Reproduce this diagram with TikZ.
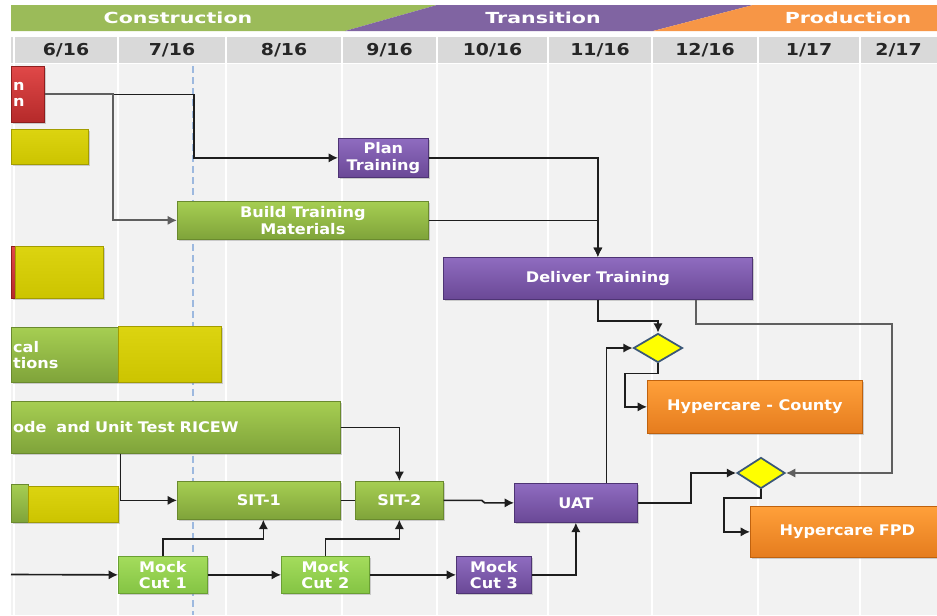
\documentclass[tikz,border=0pt]{standalone}
\usepackage{fontspec}
\newfontfamily\boxfont{DejaVu Sans}[FakeStretch=1.1]
\newfontfamily\phasefont{DejaVu Sans}[FakeStretch=1.35]
\newfontfamily\monthfont{DejaVu Sans}[FakeStretch=1.15]
\usepackage{tikz}
\usetikzlibrary{shapes.geometric, arrows.meta, shadows, calc}

\definecolor{phasegreen}{HTML}{9BBB59}
\definecolor{phasepurple}{HTML}{8064A2}
\definecolor{phaseorange}{HTML}{F79646}
\definecolor{headgray}{HTML}{D9D9D9}
\definecolor{bodygray}{HTML}{F2F2F2}
\definecolor{todayblue}{HTML}{9DB9DF}
\definecolor{redtop}{HTML}{E04848}
\definecolor{redbot}{HTML}{B52A2A}
\definecolor{redline}{HTML}{8E1E1E}
\definecolor{ylwtop}{HTML}{DCD410}
\definecolor{ylwbot}{HTML}{CCC400}
\definecolor{ylwline}{HTML}{A39D00}
\definecolor{grntop}{HTML}{A6CE52}
\definecolor{grnbot}{HTML}{7FA33A}
\definecolor{grnline}{HTML}{6A8A2E}
\definecolor{limetop}{HTML}{A4DC5C}
\definecolor{limebot}{HTML}{84C444}
\definecolor{limeline}{HTML}{6AA032}
\definecolor{purtop}{HTML}{8F6CC0}
\definecolor{purbot}{HTML}{6A4896}
\definecolor{purline}{HTML}{4E3474}
\definecolor{orgtop}{HTML}{FFA03A}
\definecolor{orgbot}{HTML}{E57C1E}
\definecolor{orgline}{HTML}{C0620E}
\definecolor{gatefill}{HTML}{FFFF00}
\definecolor{gateline}{HTML}{3B5878}
\definecolor{linkdark}{HTML}{1E1E1E}
\definecolor{linkgray}{HTML}{5F5F5F}

\tikzset{
  bar/.style={rectangle, anchor=north west, inner sep=1pt, line width=0.6pt, text=white, align=center,
    font=\boxfont\bfseries\fontsize{12.5}{14}\selectfont,
    drop shadow={shadow xshift=1.2pt, shadow yshift=-1.2pt, opacity=0.35}},
  boxsize/.style 2 args={minimum width=#1*0.3mm, minimum height=#2*0.3mm},
  cutoff/.style={align=left, text width=#1*0.3mm-3pt},
  redbar/.style={bar, top color=redtop, bottom color=redbot, draw=redline},
  ylwbar/.style={bar, top color=ylwtop, bottom color=ylwbot, draw=ylwline},
  grnbar/.style={bar, top color=grntop, bottom color=grnbot, draw=grnline},
  limebar/.style={bar, top color=limetop, bottom color=limebot, draw=limeline},
  purbar/.style={bar, top color=purtop, bottom color=purbot, draw=purline},
  orgbar/.style={bar, top color=orgtop, bottom color=orgbot, draw=orgline},
  gate/.style={diamond, draw=gateline, line width=1.5pt, fill=gatefill, inner sep=0pt},
  phase/.style={text=white, font=\phasefont\bfseries\fontsize{13}{15}\selectfont},
  month/.style={text=black!85, font=\monthfont\bfseries\fontsize{14}{16}\selectfont},
  link/.style={-{Latex[length=8pt, width=8pt]}, line width=1.4pt, draw=linkdark},
  plain/.style={line width=1.4pt, draw=linkdark},
}

\begin{document}
\begin{tikzpicture}[x=0.3mm, y=-0.3mm]
  \useasboundingbox (0,0) rectangle (937,615);
  \fill[white] (0,0) rectangle (937,615);

  % Phases
  \fill[phasegreen] (11,5) -- (437,5) -- (345,31) -- (11,31) -- cycle;
  \fill[phasepurple] (437,5) -- (753,5) -- (653,31) -- (345,31) -- cycle;
  \fill[phaseorange] (753,5) -- (937,5) -- (937,31) -- (653,31) -- cycle;
  \node[phase] (construction) at (178,18) {Construction};
  \node[phase] (transition) at (543,18) {Transition};
  \node[phase] (production) at (848,18) {Production};

  % Months
  \fill[bodygray] (11,64) rectangle (937,615);
  \fill[headgray] (11,37) rectangle (937,63);
  \foreach \a/\b/\m/\y in {14/118/6/16, 118/226/7/16, 226/342/8/16, 342/437/9/16, 437/548/10/16,
      548/652/11/16, 652/758/12/16, 758/860/1/17, 860/937/2/17} {
    \draw[white, line width=1.8pt] (\a,37) -- (\a,615);
    \node[month] (m\m-\y) at ({(\a+\b)/2},50) {\m/\y};
  }

  % Status date
  \draw[todayblue, line width=2.4pt, dash pattern=on 6pt off 3.5pt] (193,66) -- (193,615);

  % Tasks
  \node[redbar, boxsize={33}{56}, cutoff=33] (design) at (11,66) {n\\n};
  \node[ylwbar, boxsize={77}{35}] (ylwone) at (11,129) {};
  \node[purbar, boxsize={90}{39}] (plantrain) at (338,138) {Plan\\Training};
  \node[grnbar, boxsize={251}{38}] (buildmat) at (177,201) {Build Training\\Materials};
  \node[redbar, boxsize={4}{52}] (redstub) at (11,246) {};
  \node[ylwbar, boxsize={88}{52}] (ylwtwo) at (15,246) {};
  \node[grnbar, boxsize={107}{55}, cutoff=107] (funcspec) at (11,327) {cal\\tions};
  \node[ylwbar, boxsize={103}{56}] (ylwthree) at (118,326) {};
  \node[purbar, boxsize={309}{42}] (deliver) at (443,257) {Deliver Training};
  \node[gate, minimum width=49*0.3mm, minimum height=29*0.3mm] (gateone) at (658,348) {};
  \node[orgbar, boxsize={215}{53}] (hcounty) at (647,380) {Hypercare - County};
  \node[grnbar, boxsize={329}{52}, cutoff=329] (ricew) at (11,401) {ode~ and Unit Test RICEW};
  \node[grnbar, boxsize={17}{38}] (grnstub) at (11,484) {};
  \node[ylwbar, boxsize={90}{36}] (ylwfour) at (28,486) {};
  \node[grnbar, boxsize={163}{38}] (sitone) at (177,481) {SIT-1};
  \node[grnbar, boxsize={88}{38}] (sittwo) at (355,481) {SIT-2};
  \node[limebar, boxsize={89}{37}] (mockone) at (118,556) {Mock\\Cut 1};
  \node[limebar, boxsize={88}{37}] (mocktwo) at (281,556) {Mock\\Cut 2};
  \node[purbar, boxsize={75}{37}] (mockthree) at (456,556) {Mock\\Cut 3};
  \node[purbar, boxsize={123}{39}] (uat) at (514,483) {UAT};
  \node[gate, minimum width=48*0.3mm, minimum height=31*0.3mm] (gatetwo) at (761,473) {};
  \node[orgbar, boxsize={194}{51}] (hfpd) at (750,506) {Hypercare FPD};

  % Links
  \draw[link] (design.east) -- ++(149,0) |- (plantrain.west);
  \draw[link, draw=linkgray, line width=1.8pt] (design.east) -- ++(68,0) |- (buildmat.west);
  \draw[link] (plantrain.east) -| (deliver.north);
  \draw[link] (buildmat.east) -| (deliver.north);
  \draw[link] (deliver.south) -- ++(0,21) -| (gateone.north);
  \draw[link, draw=linkgray, line width=1.8pt] ($(deliver.south)+(98.5,0)$) -- ++(0,24) -- ++(196,0) |- (gatetwo.east);
  \draw[link] ($(uat.north)+(30.5,0)$) |- (gateone.west);
  \draw[link] (gateone.south) -- ++(0,10) -- ++(-33,0) |- (hcounty.west);
  \draw[link] (uat.east) -- ++(53,0) |- (gatetwo.west);
  \draw[link] (gatetwo.south) -- ++(0,8.5) -- ++(-37,0) |- (hfpd.west);
  \draw[link] (ricew.east) -| (sittwo.north);
  \draw[link] ($(ricew.south)+(-55.5,0)$) |- (sitone.west);
  \draw[plain] (sitone.east) -- (sittwo.west);
  \draw[link] (sittwo.east) -- ++(38,0) -- ++(3,2.5) -- (uat.west);
  \draw[link] (mockone.north) -- ++(0,-17) -| ($(sitone.south)+(4.5,0)$);
  \draw[link] (mocktwo.north) -- ++(0,-17) -| (sittwo.south);
  \coordinate (cutin) at (11,574.5);
  \draw[link] (cutin) -- (mockone.west);
  \draw[link] (mockone.east) -- (mocktwo.west);
  \draw[link] (mocktwo.east) -- (mockthree.west);
  \draw[link] (mockthree.east) -| (uat.south);
\end{tikzpicture}
\end{document}
